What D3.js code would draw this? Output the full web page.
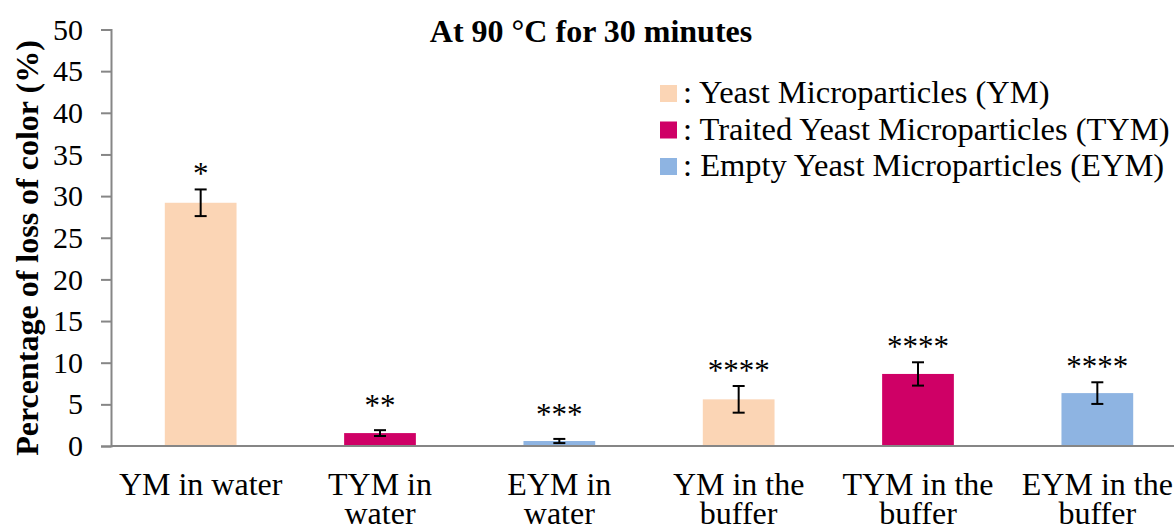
<!DOCTYPE html>
<html>
<head>
<meta charset="utf-8">
<script src="https://cdn.jsdelivr.net/npm/d3@7"></script>
<style>
  html, body { margin: 0; padding: 0; background: #fff; }
  svg { display: block; font-family: "Liberation Serif", "Times New Roman", serif; }
</style>
</head>
<body>
<svg id="chart" width="1174" height="532"></svg>
<script>
// Loss of colour after heating at 90 °C for 30 minutes
const categories = ["YM in water", "TYM in water", "EYM in water",
                    "YM in the buffer", "TYM in the buffer", "EYM in the buffer"];
const categoryLines = [["YM in water"], ["TYM in", "water"], ["EYM in", "water"],
                       ["YM in the", "buffer"], ["TYM in the", "buffer"], ["EYM in the", "buffer"]];
const groups = ["YM", "TYM", "EYM", "YM", "TYM", "EYM"];
const values = [29.2, 1.55, 0.6, 5.6, 8.65, 6.35];
const errors = [1.6, 0.35, 0.25, 1.6, 1.4, 1.3];
const significance = ["*", "**", "***", "****", "****", "****"];
const yTicks = [0, 5, 10, 15, 20, 25, 30, 35, 40, 45, 50];
const legendKeys = ["YM", "TYM", "EYM"];
const legendLabels = [": Yeast Microparticles (YM)",
                      ": Traited Yeast Microparticles (TYM)",
                      ": Empty Yeast Microparticles (EYM)"];
const colors = { YM: "#FBD5B5", TYM: "#CF0066", EYM: "#8EB4E2" };

const svg = d3.select("#chart");
const axisColor = "#868686";
const fontSize = 32;

const x = d3.scaleBand()
  .domain(categories)
  .range([111, 1187])
  .paddingInner(0.6)
  .paddingOuter(0.3);

const y = d3.scaleLinear()
  .domain([0, 50])
  .range([446, 29.5]);

// Y axis
const yAxis = svg.append("g")
  .attr("transform", `translate(${x.range()[0]},0)`)
  .call(d3.axisLeft(y).tickValues(yTicks).tickSize(10).tickPadding(18));
yAxis.attr("font-family", null);
yAxis.select(".domain").attr("stroke", axisColor).attr("stroke-width", 2);
yAxis.selectAll(".tick line").attr("stroke", axisColor).attr("stroke-width", 2);
yAxis.selectAll(".tick text")
  .attr("font-size", 30)
  .attr("fill", "#000");

// Bars
svg.append("g").selectAll("rect")
  .data(categories)
  .join("rect")
  .attr("x", d => x(d))
  .attr("width", x.bandwidth())
  .attr("y", (d, i) => y(values[i]))
  .attr("height", (d, i) => y(0) - y(values[i]))
  .attr("fill", (d, i) => colors[groups[i]]);

// X axis baseline
svg.append("line")
  .attr("x1", x.range()[0])
  .attr("x2", 1174)
  .attr("y1", y(0))
  .attr("y2", y(0))
  .attr("stroke", axisColor)
  .attr("stroke-width", 2);

// Error bars
const eb = svg.append("g").attr("stroke", "#000").attr("stroke-width", 2);
categories.forEach((c, i) => {
  const cx = x(c) + x.bandwidth() / 2;
  const hi = y(values[i] + errors[i]);
  const lo = y(values[i] - errors[i]);
  eb.append("line").attr("x1", cx).attr("x2", cx).attr("y1", hi).attr("y2", lo);
  eb.append("line").attr("x1", cx - 6).attr("x2", cx + 6).attr("y1", hi).attr("y2", hi);
  eb.append("line").attr("x1", cx - 6).attr("x2", cx + 6).attr("y1", lo).attr("y2", lo);
});

// Significance marks
svg.append("g").selectAll("text")
  .data(categories)
  .join("text")
  .attr("x", d => x(d) + x.bandwidth() / 2)
  .attr("y", (d, i) => y(values[i] + errors[i]) - (values[i] < 3 ? 14 : 5))
  .attr("text-anchor", "middle")
  .attr("font-size", 31)
  .attr("fill", "#000")
  .text((d, i) => significance[i]);

// Category labels
const cat = svg.append("g");
categories.forEach((c, i) => {
  const t = cat.append("text")
    .attr("x", x(c) + x.bandwidth() / 2)
    .attr("y", 495)
    .attr("text-anchor", "middle")
    .attr("font-size", fontSize)
    .attr("fill", "#000");
  categoryLines[i].forEach((line, j) => {
    t.append("tspan")
      .attr("x", x(c) + x.bandwidth() / 2)
      .attr("dy", j === 0 ? 0 : 29)
      .text(line);
  });
});

// Title
svg.append("text")
  .attr("x", 591)
  .attr("y", 42)
  .attr("text-anchor", "middle")
  .attr("font-size", fontSize)
  .attr("font-weight", "bold")
  .attr("fill", "#000")
  .text("At 90 °C for 30 minutes");

// Y axis title
svg.append("text")
  .attr("transform", "translate(38,248) rotate(-90)")
  .attr("text-anchor", "middle")
  .attr("font-size", fontSize)
  .attr("font-weight", "bold")
  .attr("fill", "#000")
  .text("Percentage of loss of color (%)");

// Legend
const legend = svg.append("g");
legendKeys.forEach((k, i) => {
  const row = legend.append("g").attr("transform", `translate(660,${103 + i * 36.5})`);
  row.append("rect")
    .attr("x", 0).attr("y", -18)
    .attr("width", 17).attr("height", 17)
    .attr("fill", colors[k]);
  row.append("text")
    .attr("x", 23).attr("y", 0)
    .attr("font-size", 32.5)
    .attr("fill", "#000")
    .text(legendLabels[i]);
});
</script>
</body>
</html>
